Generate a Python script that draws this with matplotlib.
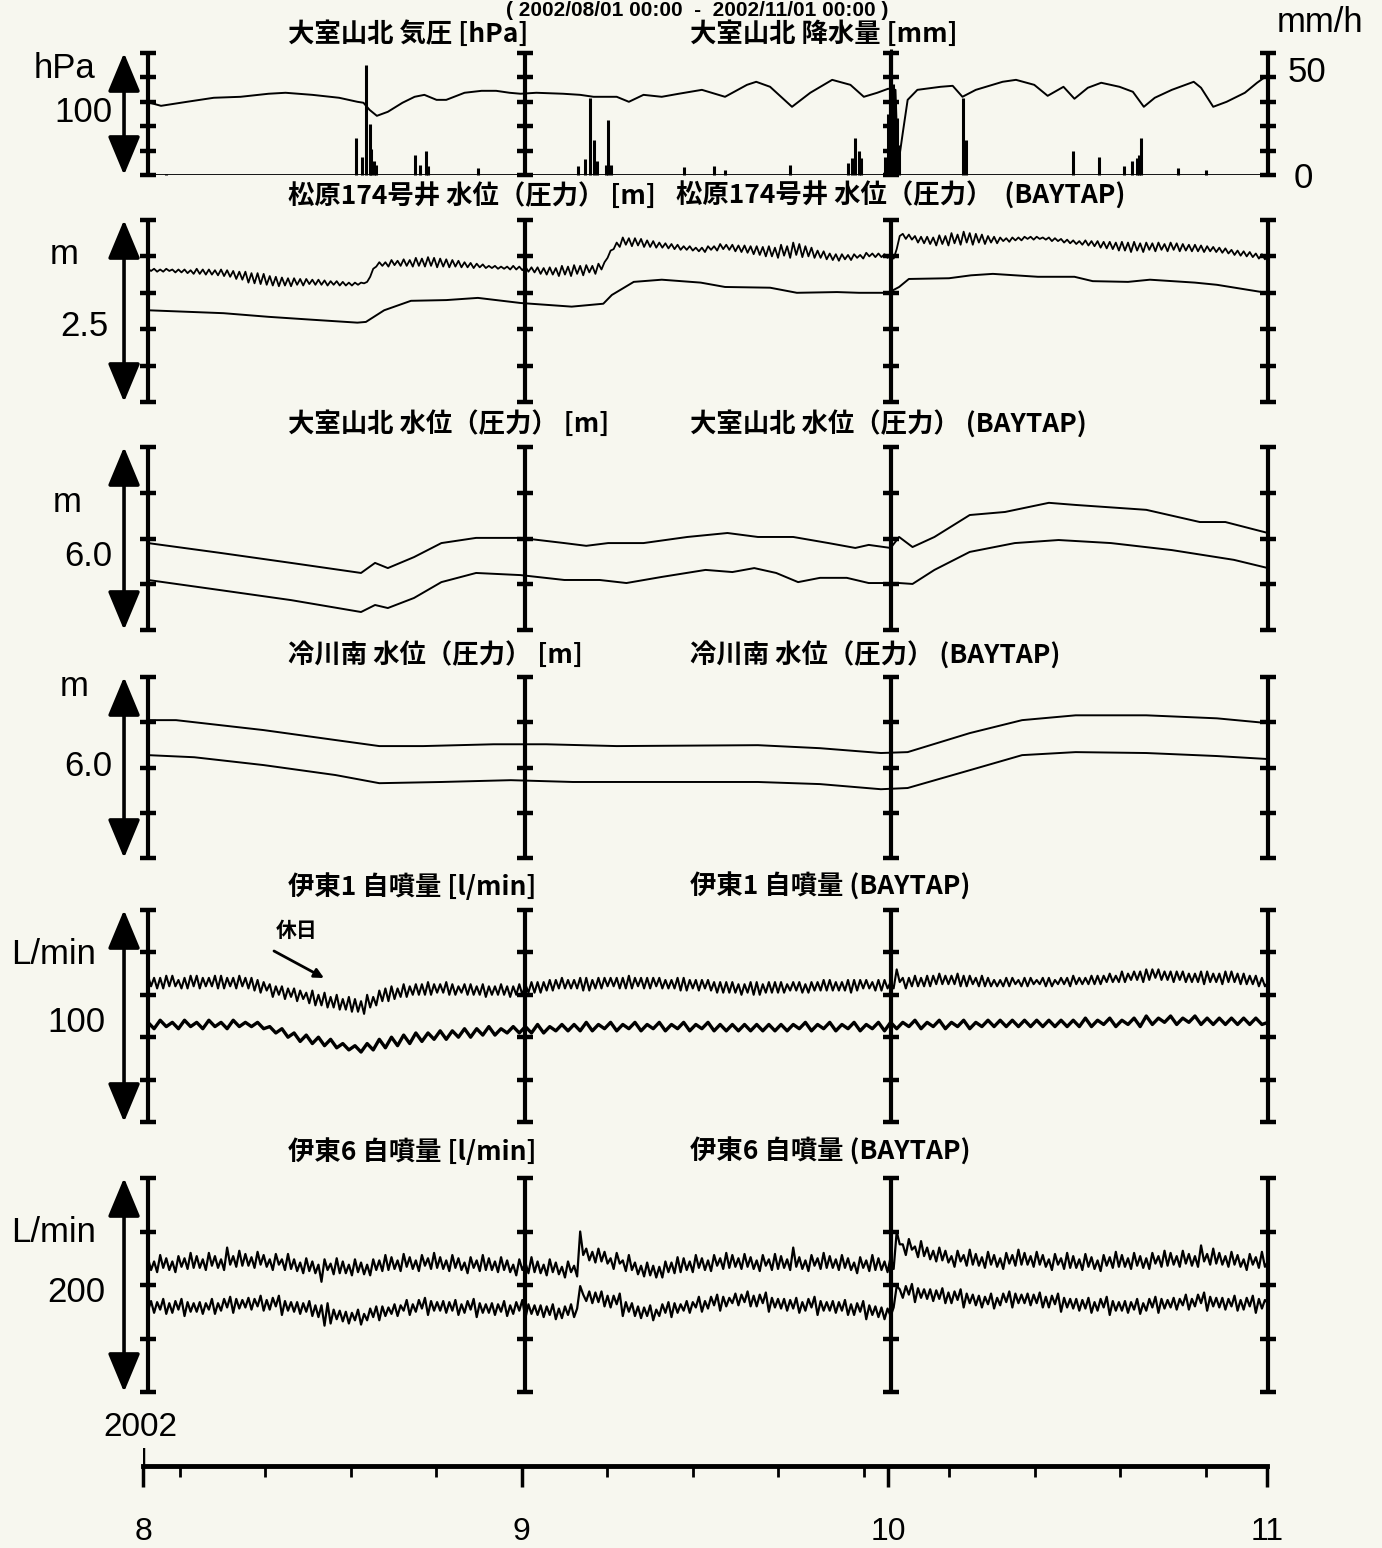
import numpy as np
import matplotlib
matplotlib.use('Agg')
import matplotlib.pyplot as plt

W, H, DPI = 1382, 1548, 100
BG = '#f7f7ef'
CJK = ['Noto Sans CJK JP', 'DejaVu Sans']
LAT = ['Liberation Sans', 'DejaVu Sans']

# ---------------- data (time = days since 2002-08-01 00:00) ----------------
month_days = [0, 31, 61, 92]
month_labels = ['8', '9', '10', '11']
sunday_days = [3, 10, 17, 24, 38, 45, 52, 59, 66, 73, 80, 87]

# 大室山北 気圧 [hPa]
p_day = [0.16, 1.07, 3.2, 5.4, 7.6, 9.9, 11.3, 13.5, 15.7, 17.2, 17.7, 18.2, 18.8, 19.7, 20.9,
         21.9, 22.7, 23.7, 24.5, 26.0, 27.4, 28.6, 29.7, 30.6, 31.9, 34.1, 35.5, 36.6, 38.5, 39.5,
         40.7, 42.2, 43.6, 45.5, 47.4, 49.2, 49.96, 51.1, 52.9, 54.4, 56.2, 57.7, 58.8, 59.9, 60.8,
         61.4, 61.6, 62.0, 62.4, 63.2, 65.1, 66.1, 66.9, 68.0, 70.2, 71.3, 72.8, 73.9, 75.2, 76.1,
         77.2, 78.3, 79.8, 80.9, 81.8, 82.7, 84.1, 85.9, 86.5, 87.5, 88.6, 90.1, 91.1, 91.9]
p_hpa = [999.2, 996.7, 1000.0, 1003.3, 1004.1, 1006.6, 1007.4, 1005.7, 1003.3, 1000.0, 999.2, 993.4,
         988.5, 991.8, 999.2, 1004.1, 1005.7, 1001.6, 1001.6, 1007.4, 1009.0, 1009.0, 1007.4, 1006.6,
         1007.4, 1006.6, 1005.7, 1004.1, 1004.1, 1000.0, 1005.7, 1004.1, 1006.6, 1009.8, 1004.1,
         1013.9, 1016.4, 1012.3, 995.9, 1007.4, 1018.0, 1013.9, 1004.1, 1007.4, 1010.7, 1009.8,
         946.7, 974.6, 1001.6, 1009.8, 1012.3, 1013.1, 1004.1, 1009.8, 1016.4, 1018.0, 1013.9,
         1004.9, 1012.3, 1002.5, 1011.5, 1015.6, 1012.3, 1008.2, 995.9, 1003.3, 1009.8, 1016.4,
         1011.5, 995.9, 1000.0, 1007.4, 1015.6, 1021.3]

# 大室山北 降水量 [mm/h]
rain_day = [1.5, 17.1, 17.6, 17.9, 18.2, 18.3, 18.6, 18.7, 21.9, 22.35, 22.8, 23.0, 27.1, 35.3, 35.9,
            36.3, 36.6, 36.9, 37.6, 37.8, 38.0, 44.0, 46.5, 47.4, 52.75, 57.5, 57.8, 58.1, 58.4, 58.6,
            60.5, 60.8, 61.0, 61.2, 61.4, 61.5, 61.7, 66.97, 67.2, 76.0, 78.1, 80.2, 80.85, 81.2,
            81.4, 81.6, 84.6, 86.9]
rain_mm = [0.5, 18, 9, 54, 25, 13, 7, 5, 10, 5, 12, 4.5, 3.5, 4.5, 8, 38, 17, 7, 5, 27, 5, 4, 4.5,
           2.5, 5, 6, 8.5, 18, 12, 8.5, 9, 30, 62, 45, 37, 28, 15, 38, 17, 12, 9, 4.5, 7, 8.5, 10,
           18, 3.5, 2.5]

# 松原174号井 水位 (raw, every 6 h) [m]
msb_raw = [
    1.83, 1.80, 1.83, 1.79, 1.82, 1.79, 1.83, 1.80, 1.82, 1.78, 1.82, 1.78, 1.82, 1.77, 1.81, 1.76,
    1.83, 1.76, 1.82, 1.75, 1.82, 1.75, 1.81, 1.74, 1.82, 1.73, 1.81, 1.72, 1.80, 1.69, 1.79, 1.68,
    1.79, 1.64, 1.77, 1.63, 1.77, 1.62, 1.76, 1.61, 1.73, 1.60, 1.72, 1.59, 1.71, 1.60, 1.70, 1.59,
    1.70, 1.61, 1.69, 1.60, 1.69, 1.62, 1.68, 1.61, 1.68, 1.61, 1.67, 1.60, 1.66, 1.61, 1.66, 1.60,
    1.65, 1.60, 1.64, 1.60, 1.64, 1.61, 1.64, 1.63, 1.65, 1.72, 1.83, 1.86, 1.92, 1.87, 1.92, 1.86,
    1.95, 1.88, 1.94, 1.87, 1.96, 1.87, 1.95, 1.86, 1.98, 1.87, 1.97, 1.86, 1.99, 1.87, 1.98, 1.85,
    1.97, 1.86, 1.96, 1.85, 1.95, 1.86, 1.94, 1.85, 1.92, 1.85, 1.91, 1.84, 1.90, 1.85, 1.89, 1.84,
    1.87, 1.84, 1.87, 1.83, 1.86, 1.83, 1.86, 1.82, 1.87, 1.82, 1.86, 1.81, 1.86, 1.79, 1.85, 1.78,
    1.85, 1.76, 1.84, 1.75, 1.85, 1.75, 1.84, 1.73, 1.87, 1.75, 1.86, 1.73, 1.88, 1.76, 1.87, 1.74,
    1.88, 1.78, 1.87, 1.76, 1.90, 1.82, 1.92, 1.98, 2.08, 2.10, 2.19, 2.13, 2.26, 2.16, 2.25, 2.14,
    2.25, 2.15, 2.24, 2.13, 2.22, 2.13, 2.21, 2.12, 2.19, 2.12, 2.18, 2.11, 2.17, 2.10, 2.16, 2.09,
    2.14, 2.09, 2.14, 2.08, 2.12, 2.07, 2.12, 2.06, 2.14, 2.09, 2.14, 2.08, 2.17, 2.10, 2.16, 2.09,
    2.16, 2.07, 2.15, 2.06, 2.15, 2.05, 2.14, 2.03, 2.14, 2.02, 2.13, 2.00, 2.14, 2.00, 2.12, 1.98,
    2.16, 2.01, 2.14, 1.98, 2.19, 2.02, 2.17, 1.99, 2.14, 2.00, 2.12, 1.98, 2.08, 1.98, 2.07, 1.96,
    2.04, 1.95, 2.03, 1.94, 2.03, 1.96, 2.02, 1.95, 2.03, 1.98, 2.02, 1.97, 2.05, 2.00, 2.04, 1.99,
    2.04, 1.99, 2.03, 1.98, 2.02, 1.97, 2.10, 2.28, 2.31, 2.24, 2.30, 2.23, 2.28, 2.19, 2.27, 2.18,
    2.27, 2.17, 2.26, 2.15, 2.29, 2.17, 2.28, 2.15, 2.32, 2.18, 2.30, 2.16, 2.34, 2.19, 2.32, 2.16,
    2.31, 2.19, 2.30, 2.17, 2.28, 2.19, 2.27, 2.18, 2.26, 2.21, 2.25, 2.20, 2.26, 2.22, 2.26, 2.22,
    2.27, 2.24, 2.27, 2.23, 2.27, 2.24, 2.26, 2.23, 2.26, 2.21, 2.25, 2.21, 2.24, 2.19, 2.23, 2.18,
    2.22, 2.17, 2.21, 2.16, 2.22, 2.15, 2.21, 2.14, 2.21, 2.12, 2.20, 2.11, 2.20, 2.10, 2.19, 2.08,
    2.20, 2.08, 2.19, 2.06, 2.20, 2.08, 2.18, 2.06, 2.19, 2.09, 2.18, 2.07, 2.19, 2.09, 2.17, 2.07,
    2.19, 2.09, 2.18, 2.07, 2.17, 2.08, 2.16, 2.07, 2.16, 2.07, 2.15, 2.06, 2.14, 2.07, 2.13, 2.06,
    2.12, 2.05, 2.11, 2.04, 2.09, 2.02, 2.08, 2.01, 2.07, 2.00, 2.06, 1.99, 2.04, 1.97, 2.03, 1.96,
    2.02]

# 松原174号井 水位 (BAYTAP) [m]
msb_bay_day = [0, 6.2, 9.9, 13.5, 17.2, 17.9, 19.4, 21.6, 24.5, 27.1, 30.6, 34.8, 37.4, 38.1, 39.9,
               42.2, 45.4, 47.4, 51.1, 53.3, 56.6, 58.4, 60.8, 61.7, 62.5, 65.8, 67.6, 69.4, 73.1,
               76.1, 77.6, 80.5, 82.3, 86.0, 87.8, 91.5, 92]
msb_bay = [1.26, 1.22, 1.17, 1.13, 1.09, 1.10, 1.26, 1.39, 1.40, 1.43, 1.36, 1.31, 1.35, 1.47, 1.65,
           1.68, 1.64, 1.58, 1.57, 1.50, 1.51, 1.50, 1.50, 1.58, 1.69, 1.70, 1.74, 1.76, 1.72, 1.72,
           1.66, 1.65, 1.68, 1.64, 1.61, 1.51, 1.51]

# 大室山北 水位 [m]
omu_raw_day = [0, 5.9, 11.75, 17.5, 18.65, 19.7, 21.85, 24.1, 26.95, 30.6, 34.2, 36.0, 37.8, 40.7,
               44.3, 47.6, 50.1, 53.0, 55.9, 58.1, 59.2, 61.0, 61.7, 62.8, 64.6, 67.5, 70.4, 74.0,
               76.2, 82.0, 86.4, 88.5, 92]
omu_raw = [2.85, 2.53, 2.20, 1.87, 2.20, 2.03, 2.39, 2.85, 3.02, 3.02, 2.85, 2.76, 2.85, 2.85, 3.05,
           3.18, 3.05, 3.05, 2.85, 2.69, 2.79, 2.69, 3.05, 2.72, 3.05, 3.77, 3.87, 4.17, 4.10, 3.94,
           3.54, 3.54, 3.18]
omu_bay_day = [0, 5.9, 11.75, 17.5, 18.65, 19.7, 21.85, 24.1, 26.95, 30.6, 34.2, 37.1, 39.3, 42.2,
               45.8, 48.0, 49.8, 51.6, 53.4, 55.2, 57.4, 59.2, 61.7, 62.8, 64.6, 67.5, 71.2, 74.8,
               79.1, 84.1, 89.2, 92]
omu_bay = [1.64, 1.31, 0.98, 0.59, 0.82, 0.72, 1.05, 1.57, 1.87, 1.80, 1.64, 1.64, 1.54, 1.74, 1.97,
           1.90, 2.03, 1.87, 1.57, 1.71, 1.71, 1.54, 1.54, 1.51, 1.97, 2.56, 2.85, 2.95, 2.85, 2.62,
           2.30, 2.03]

# 冷川南 水位 [m]
hie_raw_day = [0, 2.3, 9.5, 15.4, 19.0, 22.6, 28.4, 32.7, 38.5, 50.1, 55.2, 60.2, 62.4, 67.5, 71.8,
               76.2, 82.0, 87.8, 92]
hie_raw = [4.57, 4.57, 4.24, 3.91, 3.71, 3.71, 3.77, 3.77, 3.71, 3.74, 3.64, 3.48, 3.51, 4.14, 4.57,
           4.73, 4.73, 4.63, 4.47]
hie_bay_day = [0, 3.8, 9.5, 15.4, 19.0, 24.1, 29.8, 34.9, 50.1, 55.2, 60.2, 62.4, 67.5, 71.8, 76.2,
               82.0, 87.8, 92]
hie_bay = [3.41, 3.34, 3.08, 2.75, 2.48, 2.52, 2.58, 2.52, 2.52, 2.45, 2.28, 2.32, 2.91, 3.41, 3.51,
           3.48, 3.38, 3.28]

# 伊東1 自噴量 raw (every 6 h) [L/min]
ito1_raw = [
    69, 64, 68, 63, 68, 63, 69, 64, 69, 64, 67, 63, 68, 63, 69, 64, 69, 63, 68, 64, 68, 64, 69, 63,
    69, 63, 68, 64, 68, 63, 69, 64, 68, 63, 68, 62, 67, 61, 66, 62, 65, 59, 64, 60, 64, 58, 63, 59,
    63, 57, 62, 58, 61, 56, 62, 55, 60, 55, 61, 54, 59, 54, 60, 53, 58, 53, 59, 52, 58, 52, 57, 51,
    60, 54, 59, 55, 62, 57, 63, 57, 64, 58, 63, 59, 65, 59, 64, 60, 65, 60, 65, 60, 66, 60, 65, 61,
    65, 61, 66, 60, 65, 60, 64, 61, 65, 60, 65, 60, 64, 60, 65, 59, 64, 60, 64, 60, 65, 60, 64, 59,
    64, 60, 65, 60, 65, 61, 66, 61, 66, 61, 66, 62, 67, 62, 67, 63, 68, 63, 67, 63, 67, 63, 68, 62,
    68, 62, 67, 63, 68, 63, 68, 64, 68, 64, 68, 63, 68, 63, 69, 63, 68, 64, 68, 63, 68, 63, 68, 64,
    68, 63, 67, 63, 67, 63, 68, 62, 68, 62, 67, 63, 67, 62, 67, 63, 67, 62, 66, 61, 66, 61, 66, 61,
    66, 61, 65, 60, 65, 61, 66, 60, 66, 60, 65, 61, 66, 61, 66, 61, 66, 61, 65, 62, 66, 62, 66, 61,
    65, 61, 66, 62, 66, 62, 67, 62, 67, 62, 66, 62, 66, 62, 67, 61, 67, 62, 67, 63, 67, 63, 66, 62,
    67, 62, 67, 63, 66, 63, 72, 66, 68, 63, 68, 64, 69, 64, 68, 64, 69, 64, 69, 65, 70, 65, 69, 65,
    69, 65, 70, 64, 69, 64, 69, 65, 68, 64, 69, 64, 68, 64, 67, 64, 67, 64, 68, 64, 68, 65, 67, 64,
    68, 64, 68, 65, 67, 65, 68, 64, 68, 64, 67, 65, 68, 65, 68, 64, 69, 65, 68, 65, 68, 65, 69, 65,
    69, 65, 69, 66, 70, 66, 69, 66, 71, 66, 70, 67, 71, 67, 71, 66, 72, 67, 72, 68, 72, 67, 71, 67,
    71, 66, 71, 67, 71, 66, 70, 66, 70, 66, 71, 65, 71, 66, 70, 66, 70, 65, 71, 66, 71, 66, 70, 65,
    70, 65, 69, 65, 69, 64, 68, 64, 66]

# 伊東1 自噴量 (BAYTAP) every 12 h [L/min]
ito1_bay = [
    47, 44, 48, 45, 47, 44, 48, 45, 47, 44, 48, 45, 47, 44, 48, 45, 47, 45, 47, 44, 45, 42, 44, 40,
    42, 38, 41, 37, 40, 36, 39, 35, 37, 34, 36, 33, 37, 34, 39, 35, 40, 36, 41, 37, 42, 38, 42, 39,
    43, 39, 43, 40, 44, 40, 44, 41, 45, 41, 44, 42, 45, 42, 45, 42, 46, 42, 45, 43, 46, 43, 46, 43,
    47, 43, 46, 44, 47, 43, 46, 44, 47, 43, 46, 44, 47, 43, 46, 44, 47, 43, 46, 44, 47, 43, 46, 43,
    46, 43, 46, 43, 46, 43, 46, 43, 46, 43, 46, 44, 47, 43, 46, 44, 47, 43, 46, 44, 47, 43, 46, 44,
    47, 43, 47, 44, 47, 45, 48, 44, 47, 45, 48, 44, 47, 45, 48, 44, 47, 45, 48, 45, 48, 45, 48, 45,
    48, 45, 48, 45, 48, 45, 48, 45, 48, 45, 49, 45, 48, 46, 49, 45, 48, 46, 49, 45, 50, 46, 49, 47,
    50, 46, 49, 47, 50, 46, 49, 46, 49, 46, 49, 46, 49, 46, 49, 46, 47]

# 伊東6 自噴量 raw (every 6 h) [L/min]
ito6_raw = [
    125, 114, 122, 112, 128, 116, 125, 114, 122, 112, 127, 117, 125, 115, 130, 116,
    127, 116, 124, 114, 130, 118, 127, 116, 124, 114, 135, 119, 127, 117, 132, 118,
    129, 118, 126, 116, 131, 119, 128, 117, 124, 114, 129, 119, 124, 114, 129, 115,
    124, 113, 121, 111, 125, 113, 122, 111, 119, 103, 124, 114, 120, 110, 125, 111,
    122, 111, 119, 109, 124, 112, 121, 110, 119, 109, 124, 114, 123, 113, 128, 114,
    126, 115, 123, 113, 129, 117, 126, 115, 123, 113, 128, 118, 125, 115, 130, 116,
    126, 115, 123, 113, 128, 116, 125, 114, 121, 111, 126, 116, 123, 113, 128, 114,
    125, 114, 122, 112, 126, 114, 123, 112, 119, 109, 124, 114, 121, 111, 126, 112,
    122, 111, 119, 109, 124, 112, 121, 110, 117, 107, 122, 112, 118, 108, 150, 128,
    134, 123, 131, 121, 134, 122, 131, 120, 125, 115, 130, 120, 123, 113, 128, 114,
    121, 110, 118, 108, 121, 109, 118, 107, 117, 107, 122, 112, 121, 111, 126, 112,
    125, 114, 122, 112, 128, 116, 125, 114, 123, 113, 128, 118, 125, 115, 130, 116,
    128, 117, 125, 115, 129, 117, 126, 115, 123, 113, 128, 118, 124, 114, 129, 115,
    127, 116, 124, 114, 135, 117, 126, 115, 123, 113, 128, 118, 125, 115, 130, 116,
    127, 116, 124, 114, 128, 116, 125, 114, 121, 111, 126, 116, 123, 113, 128, 114,
    125, 114, 122, 112, 126, 115, 150, 138, 138, 128, 143, 133, 136, 126, 141, 127,
    135, 124, 132, 122, 135, 123, 132, 121, 127, 117, 132, 122, 128, 118, 133, 119,
    129, 118, 126, 116, 131, 119, 128, 117, 125, 115, 130, 120, 128, 118, 133, 119,
    130, 119, 127, 117, 131, 119, 128, 117, 124, 114, 129, 119, 125, 115, 130, 116,
    127, 116, 124, 114, 129, 117, 126, 115, 123, 113, 128, 118, 126, 116, 131, 117,
    128, 117, 125, 115, 130, 118, 127, 116, 125, 115, 130, 120, 127, 117, 132, 118,
    130, 119, 127, 117, 132, 120, 129, 118, 127, 117, 137, 122, 129, 119, 134, 120,
    130, 119, 127, 117, 131, 119, 128, 117, 124, 114, 129, 119, 126, 116, 131, 117,
    122]

# 伊東6 自噴量 (BAYTAP) every 6 h [L/min]
ito6_bay = [
    76, 85, 74, 84, 77, 87, 73, 83, 74, 85, 77, 87, 71, 84, 75, 83,
    75, 84, 73, 83, 77, 87, 73, 83, 76, 87, 79, 89, 74, 87, 78, 86,
    79, 88, 77, 87, 80, 90, 76, 86, 77, 88, 80, 90, 72, 85, 76, 84,
    75, 84, 73, 83, 75, 85, 71, 81, 70, 81, 62, 83, 64, 77, 68, 76,
    66, 75, 64, 74, 67, 77, 63, 73, 67, 78, 70, 80, 67, 80, 71, 79,
    73, 82, 71, 81, 76, 86, 72, 82, 75, 86, 78, 88, 72, 85, 76, 84,
    76, 85, 74, 84, 76, 86, 72, 82, 74, 85, 77, 87, 70, 83, 74, 82,
    74, 83, 72, 82, 75, 85, 71, 81, 73, 84, 76, 86, 69, 82, 73, 81,
    72, 81, 70, 80, 72, 82, 68, 78, 69, 80, 72, 82, 70, 78, 99, 91,
    85, 94, 83, 93, 84, 94, 80, 90, 79, 90, 82, 92, 71, 84, 75, 83,
    71, 80, 69, 79, 71, 81, 67, 77, 71, 82, 74, 84, 70, 83, 74, 82,
    76, 85, 74, 84, 79, 89, 75, 85, 78, 89, 81, 91, 76, 89, 80, 88,
    83, 92, 81, 91, 84, 94, 80, 90, 80, 91, 83, 93, 75, 88, 79, 87,
    78, 87, 76, 86, 78, 88, 74, 84, 76, 87, 79, 89, 72, 85, 76, 84,
    76, 85, 74, 84, 76, 86, 72, 82, 72, 83, 75, 85, 68, 81, 72, 80,
    70, 79, 68, 78, 71, 79, 99, 96, 88, 99, 91, 101, 84, 97, 88, 96,
    87, 96, 85, 95, 87, 97, 83, 93, 83, 94, 86, 96, 79, 92, 83, 91,
    81, 90, 79, 89, 82, 92, 78, 88, 81, 92, 84, 94, 79, 92, 83, 91,
    83, 92, 81, 91, 83, 93, 79, 89, 79, 90, 82, 92, 75, 88, 79, 87,
    78, 87, 76, 86, 78, 88, 74, 84, 76, 87, 79, 89, 72, 85, 76, 84,
    76, 85, 74, 84, 77, 87, 73, 83, 76, 87, 79, 89, 74, 87, 78, 86,
    79, 88, 77, 87, 81, 91, 77, 87, 80, 91, 83, 93, 76, 89, 80, 88,
    79, 88, 77, 87, 80, 90, 76, 86, 77, 88, 80, 90, 74, 87, 78, 86,
    83]

# ---------------- figure ----------------
plt.rcParams['font.family'] = LAT
fig = plt.figure(figsize=(W / DPI, H / DPI), dpi=DPI, facecolor=BG)

XL, XR = 148, 1268


def fx(x):
    return x / W


def fyy(y):
    return 1 - y / H


def panel(ytop, ybot, ylim, nint):
    ax = fig.add_axes([fx(XL), fyy(ybot), (XR - XL) / W, (ybot - ytop) / H])
    ax.set_xlim(0, 92)
    ax.set_ylim(*ylim)
    ax.axis('off')
    ax.patch.set_alpha(0)
    ticks = np.linspace(ylim[0], ylim[1], nint + 1)
    for xb in month_days:
        ax.plot([xb, xb], ylim, color='k', lw=3.0, solid_capstyle='butt', clip_on=False, zorder=3)
        ax.plot([xb] * len(ticks), ticks, ls='none', marker='_', ms=11, mew=3.2, color='k',
                clip_on=False, zorder=3)
    ax.annotate('', xy=(-0.0214, 1.0), xytext=(-0.0214, 0.0), xycoords='axes fraction',
                annotation_clip=False,
                arrowprops=dict(arrowstyle='<|-|>,head_length=1.2,head_width=0.5', color='k',
                                lw=2.6, mutation_scale=20, shrinkA=0, shrinkB=0))
    return ax


def title(y, left, right, xr=690):
    fig.text(fx(288), fyy(y), left, family=CJK, weight='bold', fontsize=19, ha='left', va='center')
    fig.text(fx(xr), fyy(y), right, family=CJK, weight='bold', fontsize=19, ha='left', va='center')


def lab(x, y, s, size=25):
    fig.text(fx(x), fyy(y), s, fontsize=size, ha='center', va='center', family=LAT)


LW = 1.4

# top caption (only partly visible in the scan; kept whole here)
fig.text(fx(697), fyy(1), '( 2002/08/01 00:00  -  2002/11/01 00:00 )', fontsize=15,
         weight='bold', ha='center', va='top', family=LAT)

# panel 1: pressure + rain
ax1 = panel(53, 175, (940, 1040), 5)
ax1.plot(p_day, p_hpa, color='k', lw=LW)
ax1r = ax1.twinx()
ax1r.set_ylim(0, 60)
ax1r.axis('off')
ax1r.vlines(rain_day, 0, rain_mm, color='k', lw=2.2, clip_on=False)
ax1.plot([0, 92], [940, 940], color='k', lw=2.0)
title(34, '大室山北 気圧 [hPa]', '大室山北 降水量 [mm]')
lab(65, 69, 'hPa')
lab(83, 113, '100')
lab(1320, 22, 'mm/h')
lab(1307, 72, '50')
lab(1303, 178, '0')

# panel 2: 松原174号井
ax2 = panel(220, 402, (0, 2.5), 5)
ax2.plot(np.arange(len(msb_raw)) * 0.25, msb_raw, color='k', lw=1.3)
ax2.plot(msb_bay_day, msb_bay, color='k', lw=LW)
title(196, '松原174号井 水位（圧力） [m]', '松原174号井 水位（圧力）  (BAYTAP)', xr=676)
lab(64, 255, 'm')
lab(84, 326, '2.5')

# panel 3: 大室山北 水位
ax3 = panel(447, 630, (0, 6.0), 4)
ax3.plot(omu_raw_day, omu_raw, color='k', lw=LW)
ax3.plot(omu_bay_day, omu_bay, color='k', lw=LW)
title(424, '大室山北 水位（圧力） [m]', '大室山北 水位（圧力） (BAYTAP)')
lab(67, 502, 'm')
lab(88, 556, '6.0')

# panel 4: 冷川南
ax4 = panel(677, 858, (0, 6.0), 4)
ax4.plot(hie_raw_day, hie_raw, color='k', lw=LW)
ax4.plot(hie_bay_day, hie_bay, color='k', lw=LW)
title(655, '冷川南 水位（圧力） [m]', '冷川南 水位（圧力） (BAYTAP)')
lab(74, 686, 'm')
lab(88, 767, '6.0')

# panel 5: 伊東1
ax5 = panel(910, 1122, (0, 100), 5)
ax5.plot(np.arange(len(ito1_raw)) * 0.25, ito1_raw, color='k', lw=1.5)
ax5.plot(np.arange(len(ito1_bay)) * 0.5, ito1_bay, color='k', lw=2.4)
title(887, '伊東1 自噴量 [l/min]', '伊東1 自噴量 (BAYTAP)')
lab(54, 955, 'L/min')
lab(76, 1022, '100')
fig.text(fx(297), fyy(930), '休日', family=CJK, weight='bold', fontsize=15, ha='center', va='center')
ax5.annotate('', xy=(324, H - 978), xytext=(274, H - 951), xycoords='figure pixels',
             annotation_clip=False,
             arrowprops=dict(arrowstyle='-|>', color='k', lw=2, mutation_scale=14,
                             shrinkA=0, shrinkB=0))

# panel 6: 伊東6
ax6 = panel(1178, 1392, (0, 200), 4)
ax6.plot(np.arange(len(ito6_raw)) * 0.25, ito6_raw, color='k', lw=1.6)
ax6.plot(np.arange(len(ito6_bay)) * 0.25, ito6_bay, color='k', lw=1.6)
title(1152, '伊東6 自噴量 [l/min]', '伊東6 自噴量 (BAYTAP)')
lab(54, 1232, 'L/min')
lab(76, 1292, '200')

# time axis
axt = fig.add_axes([fx(143), fyy(1466), (1267 - 143) / W, 18 / H])
axt.patch.set_alpha(0)
axt.set_xlim(0, 92)
axt.set_ylim(0, 1)
for s in ['top', 'left', 'right']:
    axt.spines[s].set_visible(False)
axt.spines['bottom'].set_linewidth(3.5)
axt.set_yticks([])
axt.set_xticks(month_days)
axt.set_xticklabels(month_labels, fontsize=23)
axt.set_xticks(sunday_days, minor=True)
axt.tick_params(axis='x', which='major', length=15, width=2.5, pad=22)
axt.tick_params(axis='x', which='minor', length=8, width=2)
axt.axvline(0, 0, 1, color='k', lw=2.5)
lab(140, 1428, '2002', size=24)

fig.savefig('out.png', dpi=DPI, facecolor=BG)
